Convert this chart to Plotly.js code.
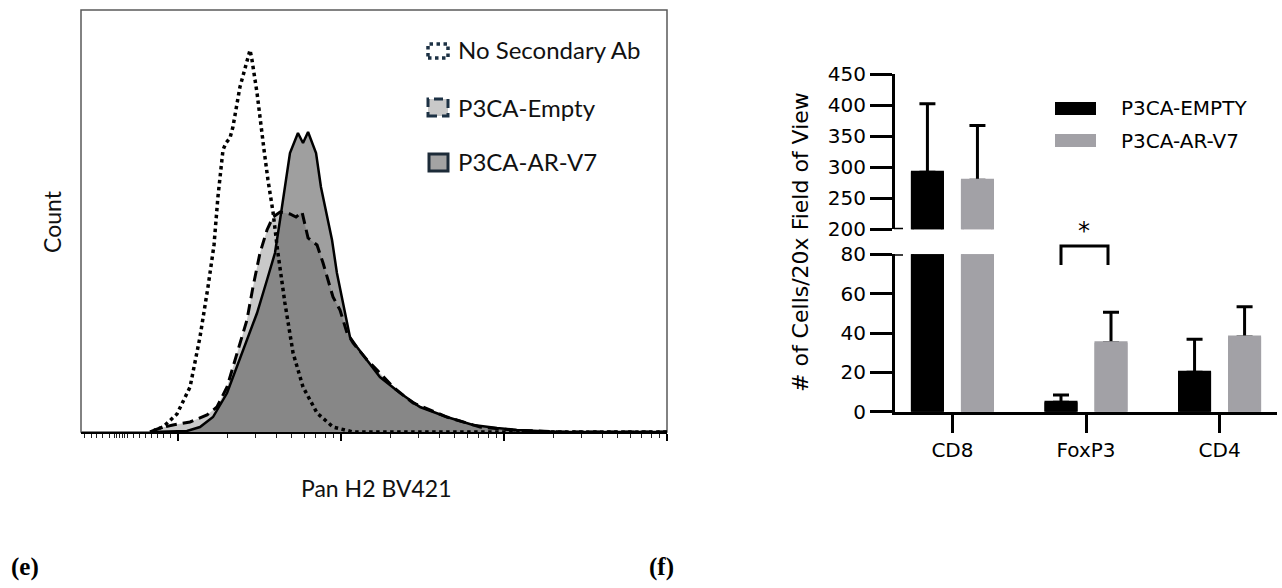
<!DOCTYPE html>
<html>
<head>
<meta charset="utf-8">
<script src="https://cdn.plot.ly/plotly-3.0.1.min.js"></script>
<style>html,body{margin:0;padding:0;background:#fff;}#chart{width:1282px;height:588px;}</style>
</head>
<body>
<div id="chart"></div>
<script>
// ---------- Panel (e): flow cytometry histogram (x = log10 fluorescence, y = count) ----------
const noSecX = [1.85, 1.859, 1.908, 1.994, 2.074, 2.135, 2.184, 2.221, 2.245, 2.276, 2.294, 2.319, 2.337, 2.380, 2.442, 2.454, 2.485, 2.503, 2.528, 2.552, 2.583, 2.613, 2.656, 2.706, 2.767, 2.853, 2.951, 3.074, 5.0];
const noSecY = [0, 0.47, 1.18, 4.27, 10.66, 22.51, 34.36, 44.31, 55.69, 66.82, 68.48, 69.67, 72.27, 81.75, 90.52, 88.15, 80.33, 73.93, 66.82, 59.72, 52.13, 42.42, 30.57, 18.72, 10.66, 4.50, 1.18, 0, 0];

const emptyX = [1.828, 1.890, 1.969, 2.074, 2.178, 2.239, 2.301, 2.362, 2.423, 2.460, 2.503, 2.546, 2.583, 2.626, 2.687, 2.724, 2.761, 2.798, 2.853, 2.890, 2.951, 2.994, 3.037, 3.074, 3.160, 3.221, 3.319, 3.442, 3.650, 3.853, 4.055, 4.344, 5.0];
const emptyY = [0, 0.95, 1.66, 2.37, 4.03, 5.92, 10.66, 18.72, 26.54, 34.36, 42.42, 47.87, 50.95, 52.13, 51.66, 50.95, 52.13, 45.97, 44.31, 40.05, 31.99, 28.91, 23.46, 21.09, 17.06, 14.69, 10.66, 6.87, 3.55, 1.18, 0.47, 0, 0];

const arv7X = [1.828, 2.055, 2.135, 2.215, 2.301, 2.362, 2.423, 2.485, 2.546, 2.595, 2.626, 2.656, 2.687, 2.736, 2.767, 2.798, 2.847, 2.877, 2.920, 2.945, 2.975, 3.018, 3.055, 3.098, 3.160, 3.239, 3.362, 3.485, 3.650, 3.810, 3.957, 4.080, 4.344, 5.0];
const arv7Y = [0, 0.24, 1.18, 3.55, 9.24, 15.40, 21.80, 28.20, 36.02, 42.42, 50.24, 58.06, 66.11, 70.85, 68.48, 71.09, 66.11, 58.06, 50.24, 45.50, 37.68, 29.62, 22.51, 20.14, 17.06, 13.03, 9.24, 5.92, 3.55, 1.66, 0.95, 0.47, 0, 0];

const histLegend = ['No Secondary Ab', 'P3CA-Empty', 'P3CA-AR-V7'];
const histMajorTicks = [2, 3, 4, 5];
const histLinearTicks = [1.428, 1.471, 1.502, 1.539, 1.582, 1.613, 1.625, 1.644, 1.662, 1.674, 1.693, 1.730, 1.766, 1.803, 1.840, 1.877, 1.914, 1.951];

// ---------- Panel (f): bar chart with broken y axis ----------
const categories = ['CD8', 'FoxP3', 'CD4'];
const barSeries = ['P3CA-EMPTY', 'P3CA-AR-V7'];
const emptyMeans = [292, 4.8, 20.0];
const emptyErr = [110, 3.7, 16.8];
const arv7Means = [279, 35.0, 38.0];
const arv7Err = [88, 15.5, 15.3];
const lowerTicks = [0, 20, 40, 60, 80];
const upperTicks = [200, 250, 300, 350, 400, 450];

// ---------- helpers ----------
const W = 1282, H = 588;
const px = x => x / W;
const py = y => 1 - y / H;

const minorTicks = histLinearTicks.slice();
[2, 3, 4].forEach(k => { for (let m = 2; m <= 9; m++) minorTicks.push(k + Math.log10(m)); });

const zeros = categories.map(() => 0);
const dejavu = 'DejaVu Sans, Verdana, sans-serif';
const lato = 'Lato, Calibri, sans-serif';
const serif = 'Liberation Serif, Times New Roman, serif';
const grayBar = '#a2a1a6';

const traces = [
  // fills first
  {x: emptyX, y: emptyY, xaxis: 'x', yaxis: 'y', type: 'scatter', mode: 'lines', fill: 'tozeroy',
   fillcolor: '#c9c9c9', line: {width: 0}, hoverinfo: 'skip', showlegend: false},
  {x: arv7X, y: arv7Y, xaxis: 'x', yaxis: 'y', type: 'scatter', mode: 'lines', fill: 'tozeroy',
   fillcolor: 'rgba(80,80,80,0.55)', line: {width: 0}, hoverinfo: 'skip', showlegend: false},
  // outlines
  {x: emptyX, y: emptyY, xaxis: 'x', yaxis: 'y', type: 'scatter', mode: 'lines', name: histLegend[1],
   line: {color: '#000', width: 3, dash: '11px,6px'}, showlegend: false},
  {x: arv7X, y: arv7Y, xaxis: 'x', yaxis: 'y', type: 'scatter', mode: 'lines', name: histLegend[2],
   line: {color: '#000', width: 2.5}, showlegend: false},
  {x: noSecX, y: noSecY, xaxis: 'x', yaxis: 'y', type: 'scatter', mode: 'lines', name: histLegend[0],
   line: {color: '#000', width: 3.5, dash: 'dot'}, showlegend: false},
];

const errStyle = (arr) => ({type: 'data', symmetric: false, array: arr, arrayminus: zeros,
  color: '#000', thickness: 3, width: 8});

['y2', 'y3'].forEach(ya => {
  // bars carrying the (upper-only) error bars
  traces.push({type: 'bar', x: categories, y: emptyMeans, name: barSeries[0], xaxis: 'x2', yaxis: ya,
    offsetgroup: 'empty', marker: {color: '#000000', line: {width: 0}}, error_y: errStyle(emptyErr), showlegend: false});
  traces.push({type: 'bar', x: categories, y: arv7Means, name: barSeries[1], xaxis: 'x2', yaxis: ya,
    offsetgroup: 'arv7', marker: {color: grayBar, line: {width: 0}}, error_y: errStyle(arv7Err), showlegend: false});
  // same bars drawn again on top, hiding the lower cap of each error bar
  traces.push({type: 'bar', x: categories, y: emptyMeans, name: barSeries[0], xaxis: 'x2', yaxis: ya,
    offsetgroup: 'empty', width: 0.225, marker: {color: '#000000', line: {width: 3, color: '#000000'}}, showlegend: false});
  traces.push({type: 'bar', x: categories, y: arv7Means, name: barSeries[1], xaxis: 'x2', yaxis: ya,
    offsetgroup: 'arv7', width: 0.225, marker: {color: grayBar, line: {width: 3, color: grayBar}}, showlegend: false});
});

const axisFontR = {family: dejavu, size: 20, color: '#000'};
const yCommonR = {anchor: 'x2', showline: true, linecolor: '#000', linewidth: 3, ticks: 'outside',
  ticklen: 22, tickwidth: 3, tickcolor: '#000', tickfont: axisFontR, showgrid: false, zeroline: false,
  tickmode: 'array'};

const layout = {
  width: W, height: H,
  margin: {l: 0, r: 0, t: 0, b: 0},
  paper_bgcolor: '#fff', plot_bgcolor: 'rgba(0,0,0,0)',
  showlegend: false,
  barmode: 'group', bargap: 0.251, bargroupgap: 0.34,
  xaxis: {domain: [px(81), px(667)], range: [1.405, 5], anchor: 'y', showline: true, linecolor: '#000',
    linewidth: 2, ticks: 'outside', tickmode: 'array', tickvals: histMajorTicks, ticklen: 7, tickwidth: 1.5,
    tickcolor: '#000', showticklabels: false, showgrid: false, zeroline: false,
    minor: {tickmode: 'array', tickvals: minorTicks, ticks: 'outside', ticklen: 4, tickwidth: 1,
      tickcolor: '#222', showgrid: false}},
  yaxis: {domain: [py(432), py(10)], range: [0, 100], anchor: 'x', showline: false, showticklabels: false,
    showgrid: false, zeroline: false, ticks: ''},
  xaxis2: {domain: [px(895), px(1277)], range: [-0.43, 2.43], anchor: 'y2', type: 'category',
    showline: true, linecolor: '#000', linewidth: 3, ticks: 'outside', ticklen: 18, tickwidth: 3,
    tickcolor: '#000', tickfont: axisFontR, showgrid: false, zeroline: false},
  yaxis2: Object.assign({}, yCommonR, {domain: [py(411.7), py(254.3)], range: [0, 80], tickvals: lowerTicks}),
  yaxis3: Object.assign({}, yCommonR, {domain: [py(229.3), py(74)], range: [200, 450], tickvals: upperTicks}),
  shapes: [
    // histogram frame
    {type: 'rect', xref: 'paper', yref: 'paper', x0: px(81), x1: px(667), y0: py(432), y1: py(10),
      line: {color: '#5a5a5a', width: 1.5}, layer: 'below'},
    // histogram legend icons
    {type: 'rect', xref: 'paper', yref: 'paper', x0: px(428), x1: px(448), y0: py(58), y1: py(44),
      line: {color: '#1c3144', width: 3.5, dash: 'dot'}},
    {type: 'rect', xref: 'paper', yref: 'paper', x0: px(428), x1: px(448), y0: py(116), y1: py(99),
      fillcolor: '#c9c9c9', line: {color: '#1c3144', width: 3, dash: '9px,5px'}},
    {type: 'rect', xref: 'paper', yref: 'paper', x0: px(429), x1: px(448), y0: py(171), y1: py(154),
      fillcolor: '#a3a3a3', line: {color: '#1c2b38', width: 3}},
    // broken-axis marks
    {type: 'line', xref: 'paper', yref: 'y2', x0: px(894), x1: px(903), y0: 80, y1: 80,
      line: {color: '#000', width: 3}},
    {type: 'line', xref: 'paper', yref: 'y3', x0: px(894), x1: px(903), y0: 200, y1: 200,
      line: {color: '#000', width: 3}},
    // significance bracket
    {type: 'path', xref: 'paper', yref: 'paper',
      path: `M ${px(1061)} ${py(265)} L ${px(1061)} ${py(246)} L ${px(1108)} ${py(246)} L ${px(1108)} ${py(265)}`,
      line: {color: '#000', width: 3}},
    // bar legend swatches
    {type: 'rect', xref: 'paper', yref: 'paper', x0: px(1055), x1: px(1096), y0: py(115), y1: py(102),
      fillcolor: '#000', line: {width: 0}},
    {type: 'rect', xref: 'paper', yref: 'paper', x0: px(1055), x1: px(1096), y0: py(147), y1: py(134),
      fillcolor: grayBar, line: {width: 0}},
  ],
  annotations: [
    {text: 'Count', xref: 'paper', yref: 'paper', x: px(52), y: py(222), textangle: -90, showarrow: false,
      xanchor: 'center', yanchor: 'middle', font: {family: lato, size: 23, color: '#111'}},
    {text: 'Pan H2 BV421', xref: 'paper', yref: 'paper', x: px(376), y: py(488), showarrow: false,
      xanchor: 'center', yanchor: 'middle', font: {family: lato, size: 23, color: '#111'}},
    {text: histLegend[0], xref: 'paper', yref: 'paper', x: px(456), y: py(49), showarrow: false,
      xanchor: 'left', yanchor: 'middle', font: {family: lato, size: 24, color: '#111'}},
    {text: histLegend[1], xref: 'paper', yref: 'paper', x: px(456), y: py(107), showarrow: false,
      xanchor: 'left', yanchor: 'middle', font: {family: lato, size: 24, color: '#111'}},
    {text: histLegend[2], xref: 'paper', yref: 'paper', x: px(456), y: py(162), showarrow: false,
      xanchor: 'left', yanchor: 'middle', font: {family: lato, size: 24, color: '#111'}},
    {text: '# of Cells/20x Field of View', xref: 'paper', yref: 'paper', x: px(800), y: py(242),
      textangle: -90, showarrow: false, xanchor: 'center', yanchor: 'middle',
      font: {family: dejavu, size: 22, color: '#000'}},
    {text: barSeries[0], xref: 'paper', yref: 'paper', x: px(1119), y: py(108), showarrow: false,
      xanchor: 'left', yanchor: 'middle', font: {family: dejavu, size: 20, color: '#000'}},
    {text: barSeries[1], xref: 'paper', yref: 'paper', x: px(1119), y: py(141), showarrow: false,
      xanchor: 'left', yanchor: 'middle', font: {family: dejavu, size: 20, color: '#000'}},
    {text: '*', xref: 'paper', yref: 'paper', x: px(1084), y: py(231), showarrow: false,
      xanchor: 'center', yanchor: 'middle', font: {family: dejavu, size: 24, color: '#000'}},
    {text: '<b>(e)</b>', xref: 'paper', yref: 'paper', x: px(9), y: py(567), showarrow: false,
      xanchor: 'left', yanchor: 'middle', font: {family: serif, size: 25, color: '#000'}},
    {text: '<b>(f)</b>', xref: 'paper', yref: 'paper', x: px(647), y: py(567), showarrow: false,
      xanchor: 'left', yanchor: 'middle', font: {family: serif, size: 25, color: '#000'}},
  ]
};

Plotly.newPlot('chart', traces, layout, {staticPlot: true, displayModeBar: false});
</script>
</body>
</html>
